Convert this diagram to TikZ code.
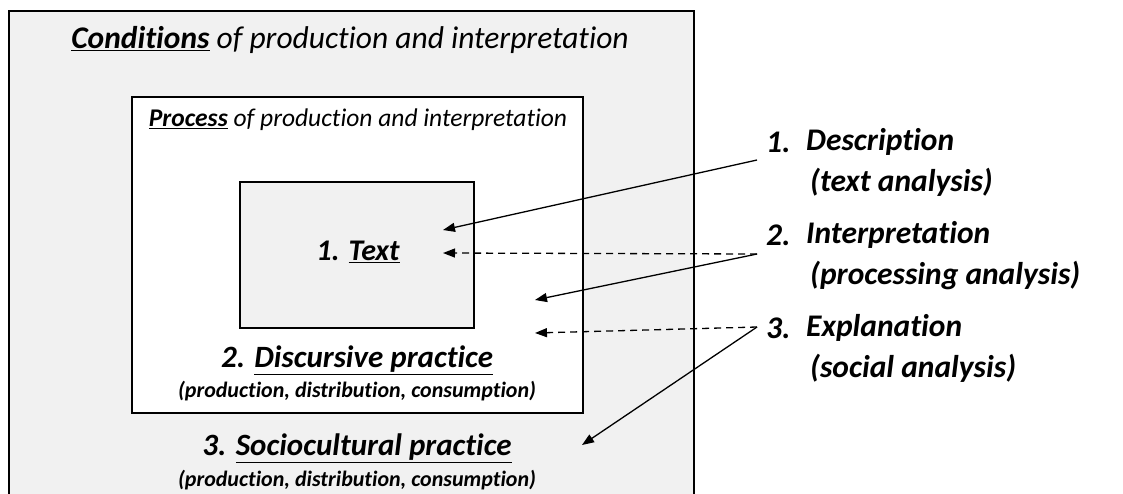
\documentclass[tikz,border=0pt]{standalone}
\usepackage{fontspec}
\setmainfont{Carlito}[Ligatures=NoCommon]
\usetikzlibrary{arrows.meta}
\definecolor{lightbg}{HTML}{F1F1F1}
\tikzset{
  boxline/.style={draw=black, line width=2.6pt},
  lbl/.style={inner sep=0pt, font=\fontsize{31.5}{34}\selectfont\bfseries\itshape, anchor=west},
  ptr/.style={line width=1.3pt, -{Triangle[length=12pt,width=9pt]}},
  ptrd/.style={ptr, dash pattern=on 7pt off 5pt},
}
\newcommand{\ul}[1]{\underline{#1}}
\begin{document}
\begin{tikzpicture}[x=1pt,y=-1pt]
\useasboundingbox (0,0) rectangle (1123,493);
\fill[white] (0,0) rectangle (1123,493);
% outer box
\path[boxline, fill=lightbg] (9,11) rectangle (694,520);
\node[inner sep=0pt, font=\fontsize{31.5}{34}\selectfont\itshape] (cond) at (350,40) {\textbf{\ul{Conditions}} of production and interpretation};
% process box
\path[boxline, fill=white] (132,97) rectangle (583,413);
\node[inner sep=0pt, font=\fontsize{25.5}{28}\selectfont\itshape] (proc) at (358,120) {\textbf{\ul{Process}} of production and interpretation};
% text box
\path[draw=black, line width=2pt, fill=lightbg] (240,182) rectangle (474,328);
\node[inner sep=0pt, font=\fontsize{30}{34}\selectfont\bfseries\itshape] (txt) at (358,252) {1. \ul{Text}};
\node[inner sep=0pt, font=\fontsize{31}{34}\selectfont\bfseries\itshape] (disc) at (357,360) {2. \ul{Discursive practice}};
\node[inner sep=0pt, font=\fontsize{22}{26}\selectfont\bfseries\itshape] (discsub) at (357,391) {(production, distribution, consumption)};
\node[inner sep=0pt, font=\fontsize{31}{34}\selectfont\bfseries\itshape] (soc) at (357,448) {3. \ul{Sociocultural practice}};
\node[inner sep=0pt, font=\fontsize{22}{26}\selectfont\bfseries\itshape] (socsub) at (357,480) {(production, distribution, consumption)};
% right labels
\node[lbl] (d1) at (766,142) {1.};
\node[lbl] (d1t) at (806,142) {Description};
\node[lbl] (d1s) at (810,182) {(text analysis)};
\node[lbl] (i2) at (766,235) {2.};
\node[lbl] (i2t) at (806,235) {Interpretation};
\node[lbl] (i2s) at (810,275) {(processing analysis)};
\node[lbl] (e3) at (766,328) {3.};
\node[lbl] (e3t) at (806,328) {Explanation};
\node[lbl] (e3s) at (810,368) {(social analysis)};
% connector end points
\coordinate (s1) at (757,160);
\coordinate (s2) at (757,254);
\coordinate (s3) at (757,327);
\coordinate (t1) at (443,230);
\coordinate (t2) at (443,253);
\coordinate (t3) at (535,300);
\coordinate (t4) at (535,333);
\coordinate (t5) at (582,445);
\draw[ptr] (s1) -- (t1);
\draw[ptrd] (s2) -- (t2);
\draw[ptr] (s2) -- (t3);
\draw[ptrd] (s3) -- (t4);
\draw[ptr] (s3) -- (t5);
\end{tikzpicture}
\end{document}
